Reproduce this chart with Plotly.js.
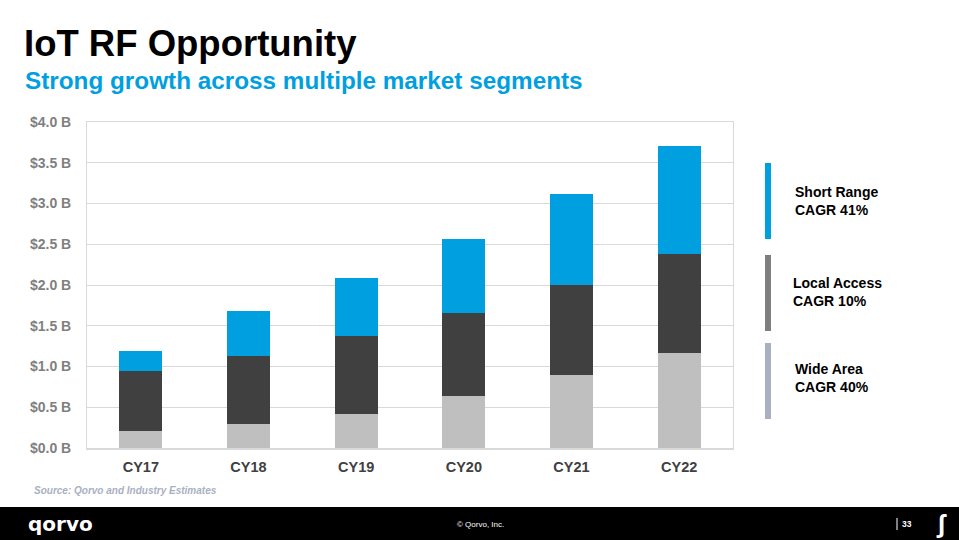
<!DOCTYPE html>
<html>
<head>
<meta charset="utf-8">
<script src="https://cdn.plot.ly/plotly-3.0.1.min.js"></script>
<style>html,body{margin:0;padding:0;background:#fff;}#chart{width:959px;height:540px;}</style>
</head>
<body>
<div id="chart"></div>
<script>
const categories = ["CY17", "CY18", "CY19", "CY20", "CY21", "CY22"];
const wideArea = [0.21, 0.30, 0.42, 0.635, 0.89, 1.165];
const localAccess = [0.74, 0.83, 0.955, 1.025, 1.105, 1.21];
const shortRange = [0.24, 0.55, 0.715, 0.91, 1.12, 1.33];
const yTickVals = [0, 0.5, 1, 1.5, 2, 2.5, 3, 3.5, 4];
const yTickText = ["$0.0 B", "$0.5 B", "$1.0 B", "$1.5 B", "$2.0 B", "$2.5 B", "$3.0 B", "$3.5 B", "$4.0 B"];
const legendLabels = ["Short Range<br>CAGR 41%", "Local Access<br>CAGR 10%", "Wide Area<br>CAGR 40%"];

const FONT = "Liberation Sans, Arial, sans-serif";

const traces = [
  {type: "bar", name: "Wide Area", x: categories, y: wideArea, marker: {color: "#BFBFBF"}, showlegend: false, hoverinfo: "skip"},
  {type: "bar", name: "Local Access", x: categories, y: localAccess, marker: {color: "#404040"}, showlegend: false, hoverinfo: "skip"},
  {type: "bar", name: "Short Range", x: categories, y: shortRange, marker: {color: "#009FDF"}, showlegend: false, hoverinfo: "skip"}
];

// helper to convert pixel coords to paper coords
const W = 959, H = 540, ML = 87, MR = 226, MT = 122, MB = 92;
const PW = W - ML - MR, PH = H - MT - MB;
function px(x) { return (x - ML) / PW; }
function py(y) { return (H - MB - y) / PH; }

const legendBars = [
  {y0: 163, y1: 239, color: "#009FDF"},
  {y0: 255, y1: 331, color: "#7F7F7F"},
  {y0: 343, y1: 419, color: "#A9B0C2"}
];
const legendShapes = legendBars.map(b => ({
  type: "rect", xref: "paper", yref: "paper",
  x0: px(765), x1: px(771), y0: py(b.y1), y1: py(b.y0),
  fillcolor: b.color, line: {width: 0}, layer: "above"
}));
const footer = {
  type: "rect", xref: "paper", yref: "paper",
  x0: px(0), x1: px(959), y0: py(540), y1: py(507),
  fillcolor: "#000000", line: {width: 0}, layer: "above"
};
const footerSep = {
  type: "line", xref: "paper", yref: "paper",
  x0: px(897), x1: px(897), y0: py(530), y1: py(518),
  line: {color: "#ffffff", width: 1}, layer: "above"
};

const legendY = [201, 292, 378];
const legendX = [793, 791, 793];
const annotations = legendLabels.map((t, i) => ({
  xref: "paper", yref: "paper", x: px(legendX[i]), y: py(legendY[i]),
  xanchor: "left", yanchor: "middle", align: "left", showarrow: false,
  text: t, font: {family: FONT, size: 14, color: "#000000", weight: "bold"}
}));

annotations.push(
  {xref: "paper", yref: "paper", x: px(22), y: py(43), xanchor: "left", yanchor: "middle", showarrow: false,
   text: "IoT RF Opportunity", font: {family: FONT, size: 36.5, color: "#000000", weight: "bold"}},
  {xref: "paper", yref: "paper", x: px(23), y: py(80), xanchor: "left", yanchor: "middle", showarrow: false,
   text: "Strong growth across multiple market segments", font: {family: FONT, size: 24.3, color: "#009FDF", weight: "bold"}},
  {xref: "paper", yref: "paper", x: px(32), y: py(490), xanchor: "left", yanchor: "middle", showarrow: false,
   text: "<i>Source: Qorvo and Industry Estimates</i>", font: {family: FONT, size: 10, color: "#A9B0C2", weight: "bold"}},
  {xref: "paper", yref: "paper", x: px(26), y: py(524), xanchor: "left", yanchor: "middle", showarrow: false,
   text: "qorvo", font: {family: "DejaVu Sans, sans-serif", size: 20, color: "#ffffff", weight: "bold"}},
  {xref: "paper", yref: "paper", x: px(480), y: py(524), xanchor: "center", yanchor: "middle", showarrow: false,
   text: "© Qorvo, Inc.", font: {family: FONT, size: 8, color: "#ffffff"}},
  {xref: "paper", yref: "paper", x: px(900), y: py(524), xanchor: "left", yanchor: "middle", showarrow: false,
   text: "33", font: {family: FONT, size: 8.5, color: "#ffffff", weight: "bold"}},
  {xref: "paper", yref: "paper", x: px(941), y: py(524), xanchor: "center", yanchor: "middle", showarrow: false,
   text: "ʃ", font: {family: FONT, size: 26, color: "#ffffff", weight: "bold"}}
);

const layout = {
  width: W, height: H,
  margin: {l: ML, r: MR, t: MT, b: MB, pad: 0},
  paper_bgcolor: "#ffffff", plot_bgcolor: "#ffffff",
  barmode: "stack", bargap: 0.6,
  showlegend: false,
  font: {family: FONT},
  xaxis: {
    type: "category", showgrid: false, zeroline: false,
    showline: true, linecolor: "#D9D9D9", linewidth: 1.5, mirror: true,
    ticks: "", ticklabelstandoff: 5,
    tickfont: {family: FONT, size: 14.5, color: "#404040", weight: "bold"}
  },
  yaxis: {
    range: [0, 4], tickvals: yTickVals, ticktext: yTickText,
    showgrid: true, gridcolor: "#D9D9D9", gridwidth: 1, zeroline: false,
    showline: true, linecolor: "#D9D9D9", linewidth: 1, mirror: true,
    ticks: "", ticklabelstandoff: 12,
    tickfont: {family: FONT, size: 14, color: "#7F7F7F", weight: "bold"}
  },
  shapes: legendShapes.concat([footer, footerSep]),
  annotations: annotations
};

Plotly.newPlot("chart", traces, layout, {staticPlot: true, displayModeBar: false});
</script>
</body>
</html>
